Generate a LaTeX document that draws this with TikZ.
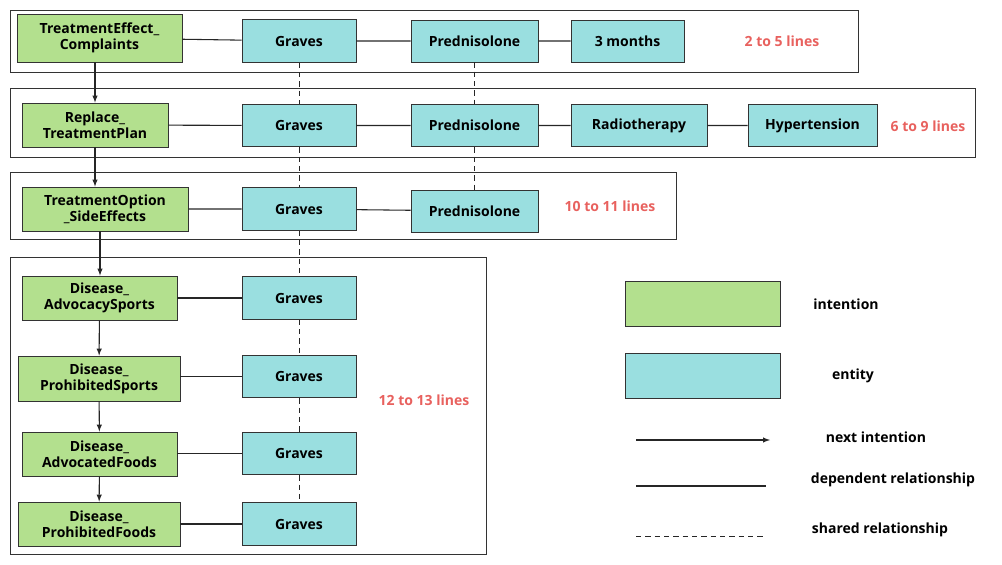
\documentclass[tikz,border=0pt]{standalone}
\usepackage{fontspec}
\setmainfont{Open Sans}
\definecolor{gr}{HTML}{B3E08E}
\definecolor{cy}{HTML}{9ADFE0}
\definecolor{lab}{HTML}{E8615E}
\begin{document}
\begin{tikzpicture}[x=0.75pt,y=-0.75pt,font=\fontsize{10.5}{12}\selectfont\bfseries,
 box/.style={draw=black!80,line width=0.6pt,inner sep=0pt,align=center},
 g/.style={box,fill=gr},c/.style={box,fill=cy},
 fr/.style={draw=black!80,line width=0.7pt},
 lb/.style={text=lab},
 dep/.style={draw=black!85,line width=0.8pt},
 sh/.style={draw=black!85,line width=0.7pt,dash pattern=on 4pt off 3pt},
 nx/.style={draw=black!85,line width=0.8pt,-latex}]
\useasboundingbox (0,0) rectangle (1002,564);
\draw[fr] (10,10) rectangle (858,72);
\draw[fr] (10,88) rectangle (975,157);
\draw[fr] (10,172) rectangle (676,239);
\draw[fr] (10,257) rectangle (486,554);
\node[g,minimum width=123.75pt,minimum height=36pt] (i1) at (99.5,38) {TreatmentEffect\_\\Complaints};
\node[g,minimum width=109.5pt,minimum height=33pt] (i2) at (95,125) {Replace\_\\TreatmentPlan};
\node[g,minimum width=124.5pt,minimum height=33pt] (i3) at (105,209) {TreatmentOption\\\_SideEffects};
\node[g,minimum width=116.25pt,minimum height=33pt] (i4) at (99.5,298) {Disease\_\\AdvocacySports};
\node[g,minimum width=121.5pt,minimum height=33.75pt] (i5) at (99,378.5) {Disease\_\\ProhibitedSports};
\node[g,minimum width=116.25pt,minimum height=33pt] (i6) at (99.5,454) {Disease\_\\AdvocatedFoods};
\node[g,minimum width=121.5pt,minimum height=33pt] (i7) at (99,524) {Disease\_\\ProhibitedFoods};
\foreach \n/\y in {1/41,2/125.5,3/209,4/298,5/376.5,6/453.5,7/524}{
 \node[c,minimum width=85.5pt,minimum height=32pt] (g\n) at (299,\y) {Graves};}
\node[c,minimum width=95.25pt,minimum height=31.5pt] (p1) at (474.5,41) {Prednisolone};
\node[c,minimum width=95.25pt,minimum height=32pt] (p2) at (474.5,125.5) {Prednisolone};
\node[c,minimum width=95.25pt,minimum height=31.5pt] (p3) at (474.5,211) {Prednisolone};
\node[c,minimum width=84.75pt,minimum height=31.5pt] (m) at (627.5,41) {3 months};
\node[c,minimum width=102pt,minimum height=32pt] (r) at (639,125.5) {Radiotherapy};
\node[c,minimum width=96.75pt,minimum height=32pt] (h) at (812.5,125.5) {Hypertension};
\node[lb] (l1) at (782,41) {2 to 5 lines};
\node[lb] (l2) at (928,126) {6 to 9 lines};
\node[lb] (l3) at (610,206) {10 to 11 lines};
\node[lb] (l4) at (424,400) {12 to 13 lines};
\draw[dep] (i1) -- (g1) -- (p1) -- (m);
\draw[dep] (i2) -- (g2) -- (p2) -- (r) -- (h);
\draw[dep] (i3) -- (g3) -- (p3);
\foreach \n in {4,5,6,7} \draw[dep] (i\n.east |- g\n) -- (g\n);
\draw[sh] (g1) -- (g2); \draw[sh] (g2) -- (g3); \draw[sh] (g3) -- (g4);
\draw[sh] (g4) -- (g5); \draw[sh] (g5) -- (g6); \draw[sh] (g6) -- (g7);
\draw[sh] (p1) -- (p2); \draw[sh] (p2) -- (p3);
\draw[nx] (i1.south -| 95,0) -- (i2.north -| 95,0);
\draw[nx] (i2) -- (i2 |- i3.north);
\draw[nx] (i3.south -| 100,0) -- (i4.north -| 100,0);
\draw[nx] (i4) -- (i5);
\draw[nx] (i5) -- (i6);
\draw[nx] (i6) -- (i7);
\node[g,minimum width=116.25pt,minimum height=33.75pt] (lg) at (702.5,303.5) {};
\node[c,minimum width=116.25pt,minimum height=33.75pt] (lc) at (702.5,375.5) {};
\node (t1) at (846,304) {intention};
\node (t2) at (853,376) {entity};
\coordinate (a1) at (636,440); \coordinate (a2) at (770,440);
\coordinate (b1) at (636,486); \coordinate (b2) at (766,486);
\coordinate (s1) at (636,536); \coordinate (s2) at (766,536);
\draw[nx] (a1) -- (a2); \draw[dep] (b1) -- (b2); \draw[sh] (s1) -- (s2);
\node (t3) at (876,437) {next intention};
\node (t4) at (893,480) {dependent relationship};
\node (t5) at (880,530) {shared relationship};
\end{tikzpicture}
\end{document}
